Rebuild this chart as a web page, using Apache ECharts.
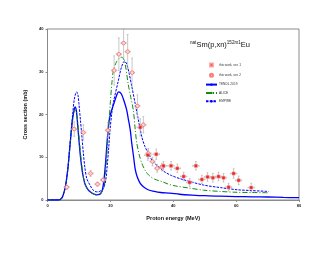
<!DOCTYPE html>
<html><head><meta charset="utf-8">
<script src="https://cdn.jsdelivr.net/npm/echarts@6/dist/echarts.min.js"></script>
<style>html,body{margin:0;padding:0;background:#fff}#c{width:330px;height:255px}</style>
</head><body><div id="c"></div>
<script>
// ---- data ----
const xTicks = [0, 20, 40, 60, 80];
const yTicks = [0, 10, 20, 30, 40];

const ser1E  = [29.5,31.9,34.6,36.9,39.3,41.3,43.3,45.2,47.2,49.1,50.9,52.6,54.4,56.0,57.6,59.2,60.8,64.8];
const ser1S  = [17.0,10.5,10.7,8.0,8.0,7.4,5.5,4.1,8.0,4.8,5.4,5.2,5.5,5.2,3.0,6.2,4.6,2.9];
const ser1dS = [2.0,1.2,1.2,1.0,1.0,1.0,1.0,0.9,1.0,1.0,1.0,1.0,1.0,1.0,0.9,1.1,1.0,1.0];
const ser1dE = [1.0,1.0,1.0,1.0,1.0,1.0,1.0,1.0,1.0,1.0,1.0,1.0,1.0,1.0,1.0,1.0,1.0,1.0];

const ser2E  = [6.1,8.5,11.4,13.7,15.9,17.7,19.2,21.2,22.7,24.2,25.5,26.9,28.6,30.5,32.1,33.4,34.9,36.4];
const ser2S  = [3.0,16.6,15.8,6.2,3.7,4.7,16.3,30.3,34.1,36.7,34.7,29.8,22.0,17.6,10.9,9.0,7.4,7.7];
const ser2dS = [0.5,1.7,1.8,0.7,0.5,0.5,1.8,3.4,3.8,3.3,4.0,3.4,2.6,1.9,1.2,1.0,0.9,0.9];
const ser2dE = [0.8,0.8,0.8,0.8,0.8,0.8,0.8,0.8,0.8,0.8,0.8,0.8,0.8,0.8,0.8,0.8,0.8,0.8];

const tendlE = [0,3.5,4.5,5,5.5,6,6.5,7,7.5,8,8.5,8.8,9.2,9.6,10,10.5,11,11.5,12,13,14,15,15.7,16.5,17,17.5,18,18.5,19,19.5,20,21,22,22.6,23.5,24.5,25.2,25.7,26.3,26.8,27.4,27.9,28.5,29.5,30.5,32,34,36,39,42,46,50,55,60,65,70,75,80];
const tendlS = [0,0,0.4,1.2,2.5,4.5,7.5,11.5,15.5,19,21.2,21.8,20.8,17.5,14,10,7,5,3.6,2.3,1.7,1.35,1.2,1.3,1.6,2.5,5,9,14,18,20,22.3,24.5,25.3,24.8,22.8,21,19,16.5,13.3,10,7.2,5.5,3.9,3.1,2.4,2.0,1.75,1.6,1.35,1.15,1.0,0.9,0.8,0.75,0.7,0.6,0.55];

const aliceE = [0,3.5,4.5,5,5.5,6,6.5,7,7.5,8,8.5,9,9.5,10,10.5,11,11.5,12,13,14,15,16,17,17.5,18,18.5,19,19.5,20,20.5,21,22,23,23.6,24.5,25.7,26.5,27.3,27.9,28.4,29.2,30,31,32.1,34,36.4,38.5,40.6,45,49.6,55,60.3,65,70.3];
const aliceS = [0,0,0.4,1.2,2.5,4.5,7.5,11.5,15.5,19,20.8,21,19,15,11,7.5,5,3.5,2.2,1.6,1.3,1.3,1.6,2.2,3,7,12,17.5,23,27.5,30.4,32.4,33.3,33.4,32.5,27,24,21,16.5,13.3,10.5,8.6,7,5.9,4.9,4.3,3.7,3.3,2.8,2.3,2.0,1.8,1.75,1.7];

const empireE = [0,3.5,4.5,5,5.5,6,6.5,7,7.5,8,8.5,9,9.3,9.7,10,10.5,10.9,11.4,11.9,12.5,13.5,14.3,15.1,16,17,17.8,18.5,19,19.5,19.9,20.4,21,22.5,23.5,24.5,25.2,26,26.8,27.9,28.7,30,31,32.1,33.5,35.3,37,39.5,43,49.6,55,60.3,65,70.3];
const empireS = [0,0,0.4,1.2,2.5,4.5,7.5,11.5,16,20,23.5,25,25.3,24.5,22.5,18.5,15.2,11,7.5,5,3.5,2.5,2.0,1.9,2.2,2.8,4.5,8,12.5,16.4,20,23,27.8,31,32.5,31.8,29.5,26.6,22.5,19.5,14.8,12.5,10.9,9,7.8,6.7,5.7,4.8,3.5,2.9,2.4,2.2,2.0];

const names = ['this work, ser. 1','this work, ser. 2','TENDL 2019','ALICE','EMPIRE'];

// ---- build ----
const zip = (a,b) => a.map((v,i)=>[v,b[i]]);
const errData = (E,S,dE,dS) => E.map((v,i)=>[v,S[i],dE[i],dS[i]]);

function errRender(params, api){
  const x = api.value(0), y = api.value(1), dx = api.value(2), dy = api.value(3);
  const t = api.coord([x, y+dy]), b = api.coord([x, y-dy]);
  const l = api.coord([x-dx, y]), r = api.coord([x+dx, y]);
  const st = {stroke:'#b0b0b0', lineWidth:0.7};
  const c = 0.9;
  return {type:'group', children:[
    {type:'line', shape:{x1:t[0],y1:t[1],x2:b[0],y2:b[1]}, style:st},
    {type:'line', shape:{x1:l[0],y1:l[1],x2:r[0],y2:r[1]}, style:st},
    {type:'line', shape:{x1:t[0]-c,y1:t[1],x2:t[0]+c,y2:t[1]}, style:st},
    {type:'line', shape:{x1:b[0]-c,y1:b[1],x2:b[0]+c,y2:b[1]}, style:st},
    {type:'line', shape:{x1:l[0],y1:l[1]-c,x2:l[0],y2:l[1]+c}, style:st},
    {type:'line', shape:{x1:r[0],y1:r[1]-c,x2:r[0],y2:r[1]+c}, style:st}
  ]};
}

const FONT = 'Liberation Sans, Arial, sans-serif';
const chart = echarts.init(document.getElementById('c'), null, {renderer:'canvas'});
chart.setOption({
  animation:false,
  backgroundColor:'#fff',
  grid:{left:47.5, right:31, top:29, bottom:55, show:true, borderColor:'#8a8a8a', borderWidth:1},
  graphic:[{
    type:'text', left:190, top:40,
    style:{
      text:'{sup|nat}{m|Sm(p,xn)}{sup|152m1}{m|Eu}',
      rich:{
        m:{fontSize:7.5, fontFamily:FONT, fill:'#111', lineHeight:9, verticalAlign:'bottom'},
        sup:{fontSize:4.6, fontFamily:FONT, fill:'#111', lineHeight:9, verticalAlign:'top'}
      }
    }
  }],
  legend:{
    data:[
      {name:names[0], icon:'path://M0,0L1,0L1,1L0,1Z'},
      {name:names[1], icon:'circle'},
      {name:names[2]},
      {name:names[3]},
      {name:names[4]}
    ],
    orient:'vertical', left:205, top:62.5, padding:0,
    itemWidth:11, itemHeight:3, itemGap:5.3, symbolKeepAspect:true,
    textStyle:{fontSize:3.2, fontFamily:FONT, color:'#333', padding:[0,0,0,-3]}
  },
  xAxis:{
    type:'value', min:0, max:80, interval:20,
    name:'Proton energy (MeV)', nameLocation:'middle', nameGap:15,
    nameTextStyle:{fontSize:5.5, fontWeight:'bold', fontFamily:FONT, color:'#111'},
    axisLine:{onZero:false, lineStyle:{color:'#8a8a8a', width:1}},
    axisTick:{show:true, length:2, lineStyle:{color:'#8a8a8a'}},
    axisLabel:{fontSize:4, fontWeight:'bold', fontFamily:FONT, color:'#222', margin:4,
      formatter:v => xTicks.includes(v) ? String(v) : ''},
    splitLine:{show:false}
  },
  yAxis:{
    type:'value', min:0, max:40, interval:10,
    name:'Cross section (mb)', nameLocation:'middle', nameGap:15, nameRotate:90,
    nameTextStyle:{fontSize:5.5, fontWeight:'bold', fontFamily:FONT, color:'#111'},
    axisLine:{show:true, lineStyle:{color:'#8a8a8a', width:1}},
    axisTick:{show:true, length:2, lineStyle:{color:'#8a8a8a'}},
    axisLabel:{fontSize:4, fontWeight:'bold', fontFamily:FONT, color:'#222', margin:4,
      formatter:v => yTicks.includes(v) ? String(v) : ''},
    splitLine:{show:false}
  },
  series:[
    {name:'TENDL 2019', type:'line', data:zip(tendlE,tendlS), showSymbol:false, symbol:'none',
      smooth:0.3, lineStyle:{color:'#0000ff', width:1.3, type:'solid'}, itemStyle:{color:'#0000ff'}, z:3},
    {name:'ALICE', type:'line', data:zip(aliceE,aliceS), showSymbol:false, symbol:'none',
      smooth:0.3, lineStyle:{color:'#138a13', width:1, type:[5,2,1,2]}, itemStyle:{color:'#138a13'}, z:3},
    {name:'EMPIRE', type:'line', data:zip(empireE,empireS), showSymbol:false, symbol:'none',
      smooth:0.3, lineStyle:{color:'#0000ff', width:1, type:[2.5,1.2]}, itemStyle:{color:'#0000ff'}, z:3},
    {type:'custom', renderItem:errRender, data:errData(ser2E,ser2S,ser2dE,ser2dS), z:4, silent:true},
    {type:'custom', renderItem:errRender, data:errData(ser1E,ser1S,ser1dE,ser1dS), z:4, silent:true},
    {name:'this work, ser. 2', type:'scatter', data:zip(ser2E,ser2S), symbol:'circle', symbolSize:3.6,
      itemStyle:{color:'#ffe4e4', borderColor:'#ff5a5a', borderWidth:0.9}, z:5},
    {name:'this work, ser. 1', type:'scatter', data:zip(ser1E,ser1S), symbol:'rect', symbolSize:3.2,
      itemStyle:{color:'#ee0000', borderColor:'#ff9a9a', borderWidth:0.6}, z:6}
  ]
});
</script></body></html>
